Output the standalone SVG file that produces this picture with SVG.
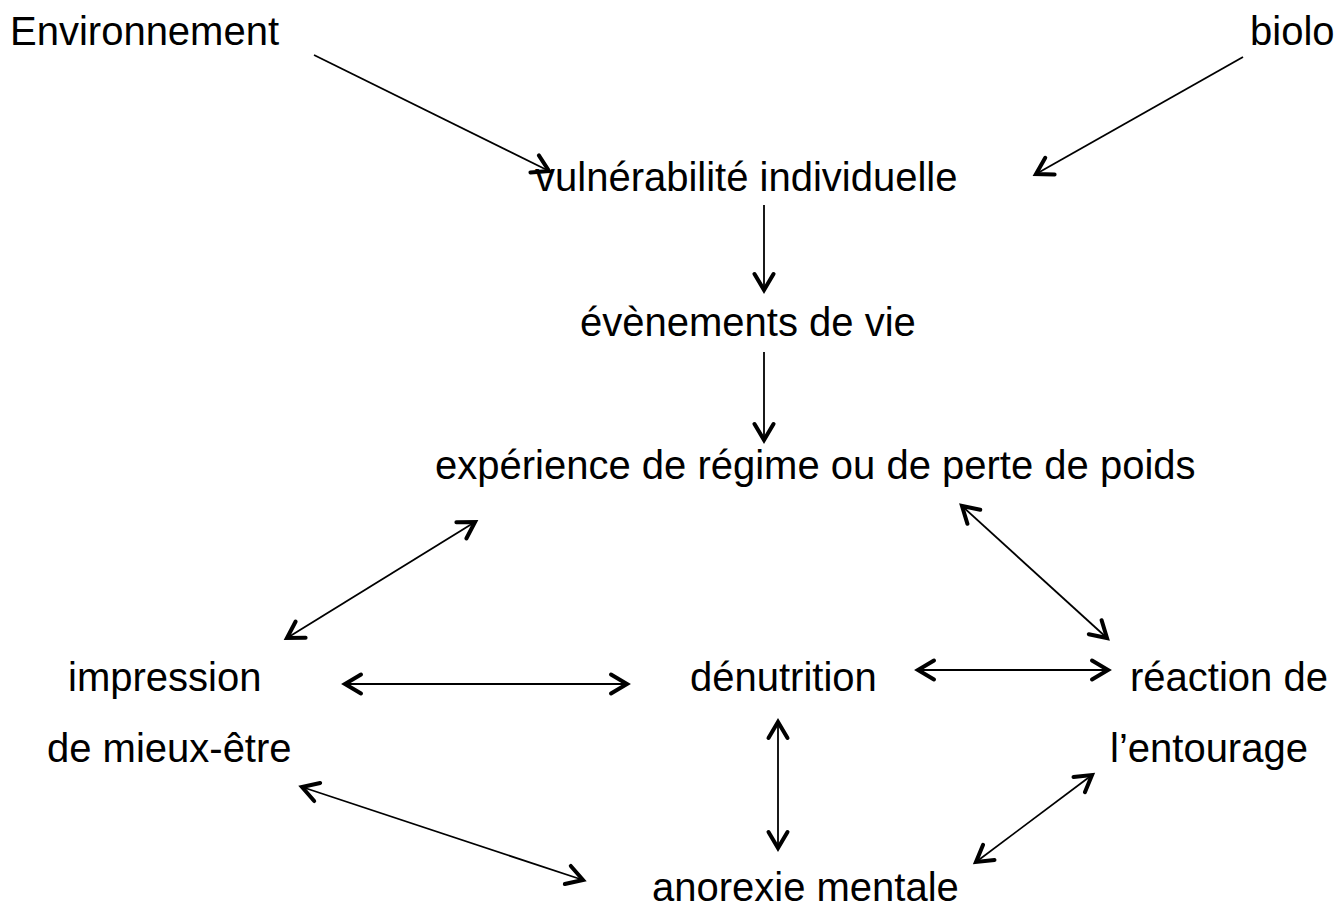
<svg xmlns="http://www.w3.org/2000/svg" width="1334" height="907" viewBox="0 0 1334 907">
<style>
text{font-family:"Liberation Sans",Arial,sans-serif;font-size:40px;fill:#000}
.c{stroke:#000;stroke-width:1.8;fill:none}
</style>
<defs>
<marker id="a" markerUnits="userSpaceOnUse" markerWidth="30" markerHeight="30" viewBox="-22 -15 30 30" refX="0" refY="0" orient="auto-start-reverse">
<path d="M-16,-9.5 L0,0 L-16,9.5" fill="none" stroke="#000" stroke-width="4" stroke-linecap="round" stroke-linejoin="miter"/>
</marker>
</defs>
<rect width="1334" height="907" fill="#fff"/>
<g id="n-env"><text x="10" y="45">Environnement</text></g>
<g id="n-bio"><text x="1250" y="45">biolo</text></g>
<g id="n-vul"><text x="535" y="191">vulnérabilité individuelle</text></g>
<g id="n-eve"><text x="580" y="336">évènements de vie</text></g>
<g id="n-exp"><text x="435" y="479">expérience de régime ou de perte de poids</text></g>
<g id="n-imp"><text x="68" y="691">impression</text><text x="47" y="762">de mieux-être</text></g>
<g id="n-den"><text x="690" y="691">dénutrition</text></g>
<g id="n-rea"><text x="1130" y="691">réaction de</text><text x="1110" y="762">l’entourage</text></g>
<g id="n-ano"><text x="652" y="901">anorexie mentale</text></g>
<g id="connectors">
<line class="c" x1="314" y1="55" x2="549" y2="171" marker-end="url(#a)"/>
<line class="c" x1="1243" y1="57" x2="1036" y2="174" marker-end="url(#a)"/>
<line class="c" x1="764" y1="205" x2="764" y2="290" marker-end="url(#a)"/>
<line class="c" x1="764" y1="352" x2="764" y2="440" marker-end="url(#a)"/>
<line class="c" x1="475" y1="522" x2="287" y2="638" marker-start="url(#a)" marker-end="url(#a)"/>
<line class="c" x1="962" y1="506" x2="1107" y2="638" marker-start="url(#a)" marker-end="url(#a)"/>
<line class="c" x1="345" y1="684" x2="627" y2="684" marker-start="url(#a)" marker-end="url(#a)"/>
<line class="c" x1="918" y1="670" x2="1108" y2="670" marker-start="url(#a)" marker-end="url(#a)"/>
<line class="c" x1="778" y1="722" x2="778" y2="848" marker-start="url(#a)" marker-end="url(#a)"/>
<line class="c" x1="302" y1="787" x2="583" y2="880" marker-start="url(#a)" marker-end="url(#a)"/>
<line class="c" x1="976" y1="862" x2="1092" y2="775" marker-start="url(#a)" marker-end="url(#a)"/>
</g>
</svg>
